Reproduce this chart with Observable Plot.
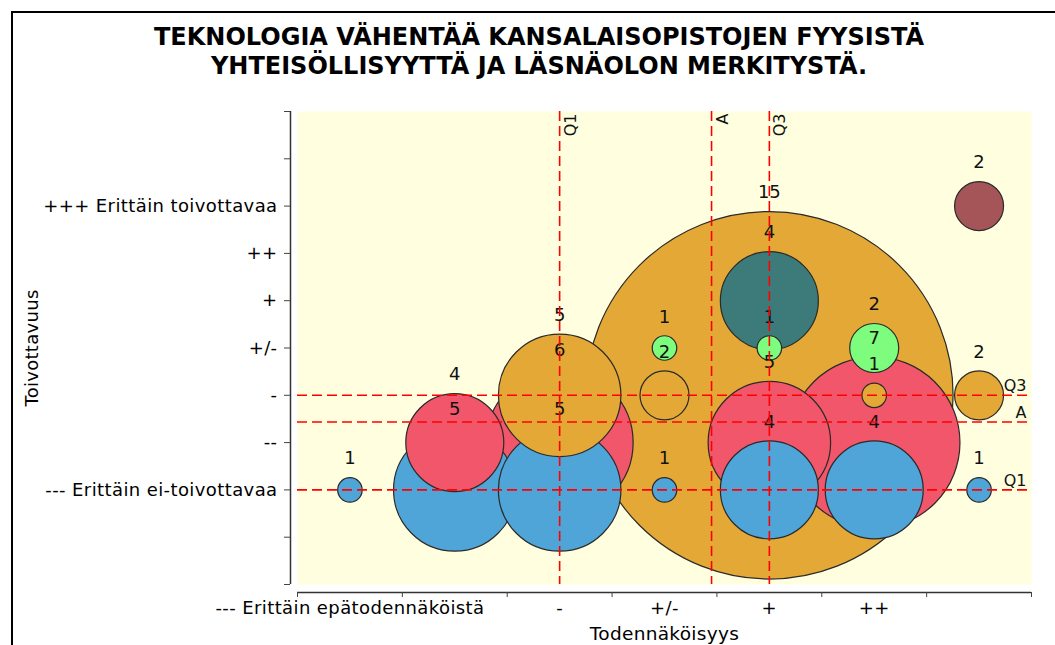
<!DOCTYPE html>
<html><head><meta charset="utf-8">
<script src="https://cdn.jsdelivr.net/npm/d3@7"></script>
<script src="https://cdn.jsdelivr.net/npm/@observablehq/plot@0.6"></script>
<style>
html,body{margin:0;padding:0;background:#fff;width:1055px;height:645px;overflow:hidden;position:relative;font-family:"DejaVu Sans",sans-serif;}
#frame{position:absolute;left:11px;top:11px;width:1100px;height:700px;border-left:2px solid #000;border-top:2px solid #000;}
#title{position:absolute;left:0;top:23px;width:1078px;text-align:center;font:bold 24px/29px "DejaVu Sans",sans-serif;color:#000;}
#chart{position:absolute;left:0;top:90px;}
#chart g[aria-label="y-axis tick label"] text, #chart g[aria-label="x-axis tick label"] text {letter-spacing:0.4px;}
#chart .axis-title text {letter-spacing:0.3px;}
</style></head><body>
<div id="frame"></div>
<div id="title">TEKNOLOGIA VÄHENTÄÄ KANSALAISOPISTOJEN FYYSISTÄ<br>YHTEISÖLLISYYTTÄ JA LÄSNÄOLON MERKITYSTÄ.</div>
<div id="chart"></div>
<script>
// Todennäköisyys categories (x) and Toivottavuus levels (y)
const xCategories = [1, 2, 3, 4, 5, 6, 7];
const xTickValues = [1, 3, 4, 5, 6];
const xTickLabels = ["--- Erittäin epätodennäköistä", "-", "+/-", "+", "++"];
const yLevels = [1, 2, 3, 4, 5, 6, 7];
const yTickLabels = ["--- Erittäin ei-toivottavaa", "--", "-", "+/-", "+", "++", "+++ Erittäin toivottavaa"];

// respondent counts per x category, one list per desirability row
const countsRow1 = [1, 5, 5, 1, 4, 4, 1];   // ---
const countsRow2 = [0, 4, 6, 0, 5, 7, 0];   // --
const countsRow3 = [0, 0, 5, 2, 15, 1, 2];  // -
const countsRow4 = [0, 0, 0, 1, 1, 2, 0];   // +/-
const countsRow5 = [0, 0, 0, 0, 4, 0, 0];   // +
const countsRow6 = [0, 0, 0, 0, 0, 0, 0];   // ++
const countsRow7 = [0, 0, 0, 0, 0, 0, 2];   // +++
const rowColors = ["#4fa4d8", "#f1566b", "#e4a837", "#7dfc7d", "#3c7b7a", "#888888", "#a55557"];

const rows = [countsRow1, countsRow2, countsRow3, countsRow4, countsRow5, countsRow6, countsRow7];
const bubbles = [];
rows.forEach((counts, ri) => counts.forEach((c, xi) => {
  if (c > 0) bubbles.push({x: xCategories[xi], y: yLevels[ri], count: c, color: rowColors[ri]});
}));
const drawOrder = d3.sort(bubbles, (a, b) => b.count - a.count);

// statistics (expanded respondents)
const xs = [], ys = [];
bubbles.forEach(d => { for (let k = 0; k < d.count; k++) { xs.push(d.x); ys.push(d.y); } });
xs.sort(d3.ascending); ys.sort(d3.ascending);
const vLines = [
  {value: d3.quantileSorted(xs, 0.25), label: "Q1"},
  {value: d3.mean(xs), label: "A"},
  {value: d3.quantileSorted(xs, 0.75), label: "Q3"}
];
const hLines = [
  {value: d3.quantileSorted(ys, 0.25), label: "Q1"},
  {value: d3.mean(ys), label: "A"},
  {value: d3.quantileSorted(ys, 0.75), label: "Q3"}
];

const rMax = 15, rMaxPx = 183.75;
const rPx = d3.scaleLinear([0, rMax], [0, rMaxPx]);
const distinctCounts = Array.from(new Set(bubbles.map(d => d.count)));
const countLabelMarks = distinctCounts.map(c =>
  Plot.text(bubbles.filter(d => d.count === c), {
    x: "x", y: "y", text: d => String(d.count), dy: -(rPx(c) + 19), fontSize: 18, fill: "#111"
  })
);

const chart = Plot.plot({
  width: 1055, height: 555,
  marginLeft: 297, marginRight: 24, marginTop: 21, marginBottom: 61,
  style: {fontFamily: "DejaVu Sans", fontSize: "18px", background: "transparent", overflow: "visible", color: "#000"},
  x: {type: "linear", domain: [0.5, 7.5], axis: null},
  y: {type: "linear", domain: [-1, 9], axis: null},
  r: {type: "linear", domain: [0, rMax], range: [0, rMaxPx]},
  marks: [
    Plot.frame({fill: "#ffffe0"}),
    Plot.ruleX([0.5], {dx: -7, stroke: "#333", strokeWidth: 1.5}),
    Plot.ruleY([-1], {dy: 8, stroke: "#333", strokeWidth: 1.5}),
    Plot.axisY({ticks: d3.range(-1, 10), tickFormat: d => (d >= 1 && d <= 7) ? yTickLabels[d - 1] : "",
      dx: -7, tickSize: 6, tickPadding: 7, fontSize: 18, label: null, stroke: "#444"}),
    Plot.axisX({ticks: d3.range(0.5, 8, 1), tickFormat: () => "", tickSize: 5, dy: 8, label: null, stroke: "#444"}),
    Plot.axisX({ticks: xTickValues, tickFormat: d => xTickLabels[xTickValues.indexOf(d)], tickSize: 0, tickPadding: 9, dy: 8, fontSize: 18, label: null}),
    Plot.dot(drawOrder, {x: "x", y: "y", r: "count", fill: "color", stroke: "#2a2a2a", strokeWidth: 1.2, sort: null}),
    ...countLabelMarks,
    Plot.ruleX(vLines, {x: "value", stroke: "#ff0000", strokeWidth: 1.6, strokeDasharray: "10,5"}),
    Plot.ruleY(hLines, {y: "value", stroke: "#ff0000", strokeWidth: 1.6, strokeDasharray: "10,5"}),
    Plot.text(vLines, {x: "value", text: "label", frameAnchor: "top", rotate: -90, textAnchor: "end", lineAnchor: "middle", dx: 11, dy: 2, fontSize: 16, fill: "#111"}),
    Plot.text(hLines, {y: "value", text: "label", frameAnchor: "right", textAnchor: "end", lineAnchor: "middle", dx: -5, dy: -9, fontSize: 16, fill: "#111"}),
    Plot.text(["Toivottavuus"], {text: d => d, frameAnchor: "left", rotate: -90, textAnchor: "middle", lineAnchor: "middle", dx: -265, fontSize: 18, className: "axis-title"}),
    Plot.text(["Todennäköisyys"], {text: d => d, frameAnchor: "bottom", textAnchor: "middle", lineAnchor: "middle", dy: 50, dx: 0, fontSize: 18.5, className: "axis-title"})
  ]
});
document.getElementById("chart").appendChild(chart);
</script>
</body></html>
